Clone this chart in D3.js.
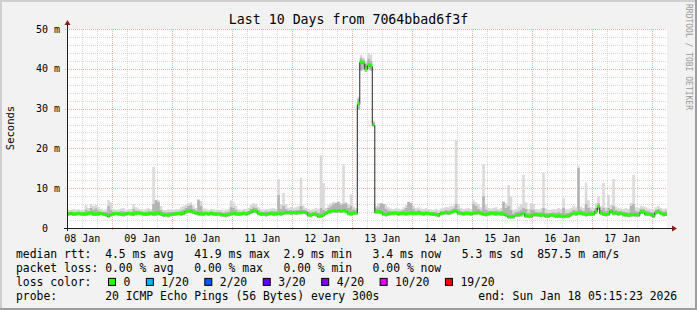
<!DOCTYPE html>
<html lang="en">
<head>
<meta charset="UTF-8">
<title>Last 10 Days from 7064bbad6f3f</title>
<script src="https://cdn.jsdelivr.net/npm/d3@7"></script>
<style>
    body { margin: 0; background: #fff; }
    svg text { font-family: "DejaVu Sans Mono", monospace; white-space: pre; }
</style>
</head>
<body>
<svg id="graph" width="697" height="310"></svg>
<script>
// hourly rows, first value = 08 Jan 06:00 UTC, one row per day after that (ms)
var median = [
    3.6,3.7,3.5,3.6,3.7,3.6,3.5,3.6,3.7,3.8,3.6,3.5,3.6,3.7,3.5,3.4,3.1,3.4,
    3.6,3.7,3.6,3.5,3.4,3.6,3.7,3.6,3.5,3.7,3.8,3.7,3.6,3.5,3.6,3.7,3.6,3.7,3.8,3.6,3.3,3.3,3.2,3.4,
    3.5,3.6,3.7,3.6,3.8,4.2,4.3,4.3,4.0,3.8,3.7,3.6,3.5,3.7,3.6,3.7,3.6,3.5,3.6,3.4,3.3,3.2,3.4,3.6,
    3.7,3.6,3.5,3.6,3.7,3.6,3.8,4.1,4.4,4.2,3.7,3.5,3.6,3.4,3.6,3.7,3.5,3.6,3.7,3.6,3.8,3.9,3.9,3.8,
    3.9,3.8,3.9,3.9,4.0,3.9,3.3,3.2,3.5,3.4,3.0,3.1,3.3,3.8,4.1,4.2,4.4,4.3,4.4,4.3,4.4,4.2,3.7,3.6,
    3.8,3.8,31.2,41.8,41.5,40.0,41.0,40.8,26.0,4.1,4.1,4.0,3.6,3.4,3.6,3.7,3.7,3.8,3.6,3.7,3.7,3.6,3.7,3.8,
    3.7,3.7,3.8,3.7,3.6,3.7,3.7,3.6,3.5,3.4,3.2,3.7,3.8,3.9,3.8,3.9,4.2,4.3,3.8,3.7,3.6,3.7,3.7,3.6,
    3.8,3.8,3.9,3.7,3.5,3.4,3.6,3.7,3.7,3.6,3.7,3.6,3.5,3.3,2.9,2.8,2.9,3.3,3.3,3.4,3.7,3.1,3.0,3.0,
    3.4,3.4,3.3,3.2,3.3,3.0,3.1,3.3,3.2,3.0,3.1,3.0,2.9,3.0,3.1,3.4,3.7,3.6,3.8,3.7,3.6,3.4,3.5,3.5,
    3.6,4.2,5.4,3.8,3.5,3.4,3.6,4.2,3.7,3.8,3.6,3.7,3.4,3.3,3.2,3.3,3.4,3.3,3.3,4.0,4.1,3.6,3.5,3.4,
    3.0,3.9,4.1,3.7,3.4,3.5
];
// lowest ping of each hour
var smokeLo = [
    3.1,3.2,3.0,3.1,3.2,3.1,3.0,3.0,3.2,3.2,3.0,3.0,3.1,3.2,3.0,2.9,2.6,2.9,
    3.1,3.2,3.1,3.0,2.9,3.1,3.2,3.1,3.0,3.2,3.3,3.2,3.1,3.0,3.1,3.2,3.0,3.1,3.2,3.1,2.8,2.9,2.7,2.9,
    3.0,3.1,3.2,3.1,3.3,3.6,3.8,3.7,3.5,3.3,3.1,3.1,3.0,3.2,3.1,3.2,3.1,3.0,3.1,2.9,2.8,2.7,2.9,3.1,
    3.2,3.1,3.0,3.1,3.2,3.1,3.3,3.6,3.8,3.7,3.2,3.0,3.1,2.9,3.1,3.2,3.0,3.1,3.2,3.1,3.3,3.4,3.4,3.3,
    3.4,3.3,3.4,3.4,3.5,3.4,2.8,2.7,3.0,2.9,2.5,2.6,2.8,3.3,3.6,3.7,3.9,3.8,3.9,3.8,3.9,3.7,3.2,3.1,
    3.3,3.3,29.7,39.6,39.8,39.2,39.8,39.6,25.5,3.6,3.6,3.5,3.1,2.9,3.1,3.2,3.2,3.3,3.1,3.2,3.2,3.1,3.2,3.3,
    3.2,3.2,3.3,3.2,3.1,3.2,3.2,3.1,3.0,2.9,2.7,3.2,3.3,3.4,3.3,3.4,3.7,3.8,3.3,3.2,3.1,3.2,3.2,3.1,
    3.3,3.3,3.4,3.2,3.0,2.9,3.1,3.2,3.2,3.1,3.2,3.1,3.0,2.8,2.4,2.3,2.4,2.8,2.8,2.9,3.2,2.6,2.5,2.5,
    2.9,2.9,2.8,2.7,2.8,2.5,2.6,2.8,2.7,2.5,2.6,2.5,2.4,2.5,2.6,2.9,3.2,3.1,3.3,3.2,3.1,2.9,3.0,3.0,
    3.1,3.6,4.6,3.3,3.0,2.9,3.1,3.7,3.2,3.3,3.1,3.2,2.9,2.8,2.7,2.8,2.9,2.8,2.8,3.5,3.6,3.1,3.0,2.9,
    2.5,3.4,3.6,3.2,2.9,3.0
];
// top of the dense part of the smoke
var smokeMid = [
    4.0,4.0,4.1,4.0,4.1,4.0,4.0,4.6,4.3,5.0,4.6,4.9,4.4,4.1,4.0,4.0,5.5,4.5,
    4.1,4.0,4.1,4.2,4.2,4.0,4.1,4.1,4.8,4.4,4.2,4.1,4.0,4.1,4.3,4.1,6.0,7.0,6.5,4.5,4.0,3.9,4.0,4.0,
    4.0,4.1,4.1,4.4,4.6,5.0,5.5,5.8,4.8,4.4,7.0,5.5,4.2,4.1,4.0,4.2,4.1,4.0,3.9,4.0,3.8,4.0,4.1,5.2,
    5.0,4.5,4.1,4.0,4.2,4.1,4.3,4.8,5.2,5.0,4.5,4.1,4.0,4.2,4.1,4.2,4.3,4.2,8.3,4.8,5.5,4.8,4.4,4.5,
    4.4,4.5,4.5,5.5,4.6,4.4,4.0,3.9,4.0,4.2,3.8,5.0,4.5,4.3,5.0,5.4,6.0,6.3,6.6,5.8,6.0,6.2,5.0,5.5,
    4.6,4.4,32.5,42.8,42.3,41.2,42.5,42.0,26.5,4.9,5.2,6.2,6.0,4.8,4.4,4.2,4.2,4.3,4.2,4.2,4.5,5.0,6.6,6.2,
    4.8,4.3,4.5,4.2,4.1,4.2,4.1,4.0,4.0,4.1,3.8,4.2,4.3,4.5,4.4,4.6,4.9,6.0,4.8,4.2,4.1,4.2,4.2,4.1,
    6.0,5.5,4.8,4.4,8.0,4.6,4.3,4.2,4.2,4.4,4.1,4.3,6.6,5.0,5.5,4.5,3.6,4.0,4.2,4.6,5.0,4.8,3.8,4.6,
    4.6,4.0,3.9,4.0,5.0,3.8,3.7,3.7,3.9,3.8,4.0,3.8,5.0,3.7,3.8,4.1,4.5,4.4,15.0,4.6,4.3,6.0,5.0,4.4,
    4.3,5.0,6.2,4.5,5.0,4.3,5.0,4.8,5.5,4.5,4.3,4.2,4.1,4.0,3.9,5.5,6.0,4.2,4.1,4.8,4.7,4.4,4.2,4.0,
    3.9,4.6,4.8,4.4,4.1,4.2
];
// highest ping of each hour
var smokeHi = [
    4.6,4.5,4.8,4.6,4.7,4.5,4.6,5.8,5.0,6.0,5.5,5.8,5.2,4.8,4.6,4.7,7.0,6.5,
    4.8,4.6,4.7,4.9,5.0,4.6,4.7,4.8,6.0,5.2,4.9,4.7,4.6,4.8,5.0,4.7,15.3,7.0,7.0,5.5,4.6,4.5,4.7,4.6,
    4.6,4.8,4.7,5.2,5.5,5.9,6.2,6.5,5.6,5.0,7.3,6.8,4.9,4.7,4.6,4.8,4.7,4.6,4.5,4.6,4.4,4.6,4.8,6.9,
    6.5,5.5,4.7,4.6,4.8,4.7,5.0,5.8,6.3,6.0,5.2,4.7,4.6,4.8,4.7,4.9,5.0,4.8,12.3,6.0,8.8,6.0,5.1,5.3,
    5.0,5.2,5.4,12.7,5.6,5.0,4.8,4.6,4.7,5.0,4.8,18.2,11.3,5.0,5.8,6.2,6.6,6.4,6.6,6.3,16.0,6.5,6.0,8.5,
    5.4,5.0,33.0,43.5,42.8,42.0,44.0,43.5,27.0,5.6,6.2,6.2,6.0,5.8,5.2,4.9,4.8,5.0,4.9,4.8,5.2,5.8,6.6,6.4,
    5.6,5.0,5.2,4.9,4.8,5.0,4.8,4.7,4.6,4.8,4.5,4.9,5.0,5.3,5.2,5.5,5.6,22.0,6.0,5.0,4.8,4.9,5.0,4.8,
    7.0,6.5,6.0,5.2,16.0,5.8,5.0,4.9,5.0,5.2,4.8,5.0,6.6,6.2,10.8,8.0,4.6,4.8,5.4,6.0,13.3,6.5,4.8,6.2,
    6.0,4.8,4.7,4.9,13.8,4.9,4.6,4.5,4.8,4.7,5.0,4.8,7.5,4.8,4.7,5.0,5.6,5.2,15.6,5.4,5.0,11.4,7.0,5.2,
    5.0,6.2,8.0,5.5,11.3,5.2,8.3,5.8,12.3,5.4,5.0,4.9,4.8,5.0,4.8,6.3,13.3,5.2,5.0,5.6,5.4,5.2,4.9,4.7,
    4.6,5.2,5.5,5.0,4.8,4.9
];

var yTicks = [0, 10, 20, 30, 40, 50];
var lossLabels = ["0", "1/20", "2/20", "3/20", "4/20", "10/20", "19/20"];
var lossColors = ["#26ff00", "#00b8ff", "#0059ff", "#5e00ff", "#7e00ff", "#dd00ff", "#ff0000"];
var legendRtt  = "median rtt:  4.5 ms avg   41.9 ms max  2.9 ms min   3.4 ms now   5.3 ms sd  857.5 m am/s";
var legendLoss = "packet loss: 0.00 % avg   0.00 % max   0.00 % min   0.00 % now";
var legendProbe = "probe:       20 ICMP Echo Pings (56 Bytes) every 300s";
var legendEnd = "end: Sun Jan 18 05:15:23 2026";
var title = "Last 10 Days from 7064bbad6f3f";

var W = 697, H = 310;
var pLeft = 67, pRight = 667, pTop = 29, pBottom = 228;
var charW = 6.86;

var svg = d3.select("#graph");

// background + 3d border
svg.append("rect").attr("width", W).attr("height", H).attr("fill", "#f2f2f2");
svg.append("path").attr("d", "M0,0H" + W + "V2H2V" + H + "H0Z").attr("fill", "#cfcfcf");
svg.append("path").attr("d", "M" + W + ",0V" + H + "H0V" + (H - 2) + "H" + (W - 2) + "V0Z").attr("fill", "#9e9e9e");
svg.append("rect").attr("x", pLeft).attr("y", pTop).attr("width", pRight - pLeft).attr("height", pBottom - pTop).attr("fill", "#fff");

var t0 = Date.UTC(2026, 0, 8, 6);
var start = new Date(Date.UTC(2026, 0, 8, 5, 53));
var end = new Date(Date.UTC(2026, 0, 18, 5, 53));

var x = d3.scaleUtc().domain([start, end]).range([pLeft, pRight]);
var y = d3.scaleLinear().domain([0, 50]).range([pBottom, pTop]);

// grid
var grid = svg.append("g");
var minorY = d3.range(2, 50, 2).filter(function (v) { return v % 10 != 0; });
grid.selectAll(".hmin").data(minorY).enter().append("line")
    .attr("x1", pLeft).attr("x2", pRight)
    .attr("y1", function (d) { return Math.round(y(d)) + 0.5; })
    .attr("y2", function (d) { return Math.round(y(d)) + 0.5; })
    .attr("stroke", "rgba(143,143,143,0.35)").attr("stroke-dasharray", "1,1");
var hours = d3.utcHour.every(6).range(start, end).filter(function (d) { return d.getUTCHours() != 0; });
grid.selectAll(".vmin").data(hours).enter().append("line")
    .attr("y1", pTop).attr("y2", pBottom)
    .attr("x1", function (d) { return Math.round(x(d)) + 0.5; })
    .attr("x2", function (d) { return Math.round(x(d)) + 0.5; })
    .attr("stroke", "rgba(143,143,143,0.35)").attr("stroke-dasharray", "1,1");
grid.selectAll(".hmaj").data(yTicks.slice(1)).enter().append("line")
    .attr("x1", pLeft - 2).attr("x2", pRight)
    .attr("y1", function (d) { return Math.round(y(d)) + 0.5; })
    .attr("y2", function (d) { return Math.round(y(d)) + 0.5; })
    .attr("stroke", "rgba(222,80,80,0.45)").attr("stroke-dasharray", "1,1");
var days = d3.utcDay.range(start, end);
grid.selectAll(".vmaj").data(days).enter().append("line")
    .attr("y1", pTop).attr("y2", pBottom + 2)
    .attr("x1", function (d) { return Math.round(x(d)) + 0.5; })
    .attr("x2", function (d) { return Math.round(x(d)) + 0.5; })
    .attr("stroke", "rgba(222,80,80,0.45)").attr("stroke-dasharray", "1,1");

// data
var rows = median.map(function (m, i) {
    return {t: new Date(t0 + i * 3600e3), m: m, lo: smokeLo[i], mid: smokeMid[i], hi: smokeHi[i]};
});
var last = rows[rows.length - 1];
rows.push({t: new Date(t0 + rows.length * 3600e3), m: last.m, lo: last.lo, mid: last.mid, hi: last.hi});

svg.append("clipPath").attr("id", "plotClip").append("rect")
    .attr("x", pLeft + 1).attr("y", 0).attr("width", pRight - pLeft - 1).attr("height", pBottom);
var plot = svg.append("g").attr("clip-path", "url(#plotClip)");

var smokeArea = function (lo, hi) {
    return d3.area().curve(d3.curveStepAfter)
        .x(function (d) { return x(d.t); })
        .y0(function (d) { return y(d[lo]); })
        .y1(function (d) { return y(d[hi]); });
};
plot.append("path").datum(rows).attr("d", smokeArea("lo", "hi")).attr("fill", "#d9d9d9");
plot.append("path").datum(rows).attr("d", smokeArea("lo", "mid")).attr("fill", "#b3b3b3");

plot.append("path").datum(rows)
    .attr("d", d3.line().curve(d3.curveStepAfter)
        .x(function (d) { return x(d.t); })
        .y(function (d) { return Math.round(y(d.m)) + 0.5; }))
    .attr("fill", "none").attr("stroke", "#202020").attr("stroke-width", 1);

var band = 1.5; // half height of the loss coloured median band, px
plot.append("path").datum(rows)
    .attr("d", d3.area().curve(d3.curveStepAfter)
        .x(function (d) { return x(d.t); })
        .y0(function (d) { return y(d.m) + band; })
        .y1(function (d) { return y(d.m) - band; }))
    .attr("fill", lossColors[0]);

// axes
svg.append("line").attr("x1", pLeft + 0.5).attr("x2", pLeft + 0.5).attr("y1", pBottom + 3).attr("y2", pTop - 5)
    .attr("stroke", "#1f1f1f");
svg.append("line").attr("x1", pLeft - 3).attr("x2", pRight + 5).attr("y1", pBottom + 0.5).attr("y2", pBottom + 0.5)
    .attr("stroke", "#1f1f1f");
svg.append("path").attr("d", "M" + (pLeft - 2.5) + "," + (pTop - 4) + "L" + (pLeft + 3.5) + "," + (pTop - 4) + "L" + (pLeft + 0.5) + "," + (pTop - 9) + "Z")
    .attr("fill", "#7f1f1f");
svg.append("path").attr("d", "M" + (pRight + 5) + "," + (pBottom - 2.5) + "L" + (pRight + 5) + "," + (pBottom + 3.5) + "L" + (pRight + 10) + "," + (pBottom + 0.5) + "Z")
    .attr("fill", "#7f1f1f");

svg.selectAll(".ylab").data(yTicks).enter().append("text")
    .attr("x", 60).attr("y", function (d) { return y(d) + 3.5; })
    .attr("text-anchor", "end").attr("font-size", "10px").attr("fill", "#000")
    .text(function (d) { return d == 0 ? "0\u00a0\u00a0" : d + " m"; });

var noons = [d3.utcHour.offset(d3.utcDay.floor(start), 12)]
    .concat(days.map(function (d) { return d3.utcHour.offset(d, 12); }))
    .filter(function (d) { return d >= start && d <= end; });
svg.selectAll(".xlab").data(noons).enter().append("text")
    .attr("x", function (d) { return x(d); }).attr("y", 242)
    .attr("text-anchor", "middle").attr("font-size", "10px").attr("fill", "#000")
    .text(d3.utcFormat("%d %b"));

svg.append("text").attr("transform", "translate(14,128) rotate(-90)")
    .attr("text-anchor", "middle").attr("font-size", "10.5px").text("Seconds");

svg.append("text").attr("x", 348.5).attr("y", 24).attr("text-anchor", "middle")
    .attr("font-size", "13.25px").text(title);

svg.append("text").attr("transform", "translate(686,4) rotate(90)")
    .attr("font-size", "8px").attr("fill", "#999").text("RRDTOOL / TOBI OETIKER");

// legend
var lg = svg.append("g").attr("font-size", "11.4px");
var rowY = [258.3, 272.1, 285.9, 299.7];
lg.append("text").attr("x", 16).attr("y", rowY[0]).text(legendRtt);
lg.append("text").attr("x", 16).attr("y", rowY[1]).text(legendLoss);
lg.append("text").attr("x", 16).attr("y", rowY[2]).text("loss color:");
lg.append("text").attr("x", 16).attr("y", rowY[3]).text(legendProbe);
lg.append("text").attr("x", 478.3).attr("y", rowY[3]).text(legendEnd);

var lx = 108.5;
lossLabels.forEach(function (lab, i) {
    lg.append("rect").attr("x", lx).attr("y", rowY[2] - 7.5).attr("width", 7).attr("height", 7)
        .attr("fill", lossColors[i]).attr("stroke", "#000");
    lg.append("text").attr("x", lx + 15).attr("y", rowY[2]).text(lab);
    lx += 15 + lab.length * charW + 16;
});
</script>
</body>
</html>
